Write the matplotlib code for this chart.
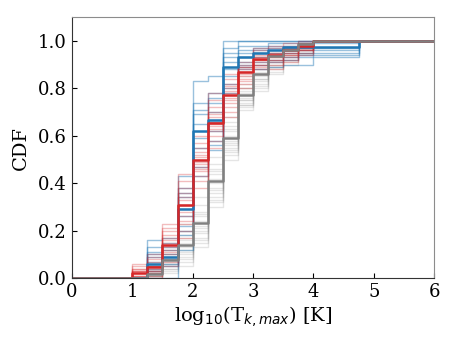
import numpy as np
import matplotlib
matplotlib.use('Agg')
import matplotlib.pyplot as plt

plt.rcParams['font.family'] = 'DejaVu Serif'

# left edges of the CDF steps, log10(T) [K]
edges = [1.0, 1.25, 1.5, 1.75, 2.0, 2.25, 2.5, 2.75, 3.0, 3.25, 3.5, 3.75,
         4.0, 4.25, 4.5, 4.75]

## MAIN CURVES
blue_main = [0, 0.06, 0.09, 0.29, 0.62, 0.665, 0.89, 0.93, 0.95, 0.96,
             0.975, 0.975, 0.975, 0.975, 0.975, 1.0]
red_main = [0.02, 0.045, 0.14, 0.31, 0.50, 0.655, 0.77, 0.87, 0.925, 0.94,
            0.96, 0.98, 1.0]
gray_main = [0, 0.018, 0.077, 0.138, 0.232, 0.409, 0.59, 0.77, 0.861, 0.935,
             0.962, 0.985, 1.0]

## RESAMPLED CURVES (faint)
blue_faint = [
    [0, 0.00, 0.00, 0.12, 0.43, 0.54, 0.78, 0.88, 0.88, 0.89, 0.90, 0.90, 0.93, 0.93, 0.93, 1.0],
    [0, 0.03, 0.05, 0.18, 0.50, 0.58, 0.82, 0.90, 0.91, 0.92, 0.93, 0.93, 0.95, 0.95, 0.95, 1.0],
    [0, 0.05, 0.08, 0.22, 0.55, 0.62, 0.85, 0.91, 0.93, 0.94, 0.95, 0.95, 0.96, 0.96, 0.96, 1.0],
    [0, 0.07, 0.10, 0.26, 0.59, 0.66, 0.88, 0.93, 0.95, 0.95, 0.96, 0.96, 0.97, 0.97, 0.97, 1.0],
    [0, 0.09, 0.12, 0.31, 0.65, 0.70, 0.91, 0.95, 0.96, 0.97, 0.97, 0.98],
    [0, 0.11, 0.13, 0.34, 0.69, 0.74, 0.93, 0.96, 0.97, 0.98, 0.98, 0.99, 0.99, 0.99, 0.99, 1.0],
    [0, 0.13, 0.15, 0.38, 0.74, 0.78, 0.95, 0.98, 0.98, 0.99, 0.99],
    [0, 0.16, 0.17, 0.43, 0.83, 0.85],
    [0, 0.04, 0.06, 0.20, 0.47, 0.56, 0.80, 0.89, 0.90, 0.91, 0.92, 0.94, 0.94, 0.94, 0.94, 1.0],
    [0, 0.10, 0.14, 0.36, 0.71, 0.76, 0.97],
]
red_faint = [
    [0.00, 0.00, 0.05, 0.17, 0.38, 0.55, 0.68, 0.80, 0.86, 0.88, 0.91, 0.94],
    [0.01, 0.01, 0.07, 0.20, 0.41, 0.58, 0.70, 0.82, 0.88, 0.90, 0.92, 0.95],
    [0.01, 0.02, 0.09, 0.23, 0.43, 0.60, 0.72, 0.83, 0.89, 0.91, 0.93, 0.96],
    [0.02, 0.03, 0.11, 0.26, 0.45, 0.62, 0.74, 0.85, 0.90, 0.92, 0.94, 0.96],
    [0.02, 0.04, 0.13, 0.28, 0.47, 0.64, 0.76, 0.86, 0.91, 0.93, 0.95, 0.97],
    [0.03, 0.05, 0.15, 0.31, 0.49, 0.66, 0.77, 0.87, 0.92, 0.94, 0.96, 0.97],
    [0.03, 0.06, 0.16, 0.33, 0.51, 0.68, 0.79, 0.88, 0.93, 0.95, 0.96, 0.98],
    [0.04, 0.07, 0.18, 0.36, 0.53, 0.70, 0.80, 0.89, 0.94, 0.95, 0.97, 0.98],
    [0.04, 0.08, 0.20, 0.38, 0.55, 0.72, 0.82, 0.90, 0.95, 0.96, 0.97, 0.99],
    [0.05, 0.09, 0.21, 0.41, 0.57, 0.75, 0.84, 0.91, 0.96, 0.97, 0.98, 0.99],
    [0.06, 0.10, 0.23, 0.44, 0.60, 0.78, 0.86, 0.93, 0.97, 0.98, 0.99, 1.00],
    [0.00, 0.02, 0.10, 0.24, 0.46, 0.63, 0.75, 0.84, 0.90, 0.92, 0.94, 0.96],
    [0.01, 0.03, 0.12, 0.29, 0.48, 0.65, 0.78, 0.87, 0.92, 0.93, 0.95, 0.97],
    [0.03, 0.05, 0.17, 0.34, 0.52, 0.69, 0.81, 0.89, 0.93, 0.94, 0.96, 0.98],
]
gray_faint = [
    [0, 0.00, 0.02, 0.05, 0.13, 0.30, 0.50, 0.71, 0.79, 0.86, 0.90, 0.94],
    [0, 0.00, 0.03, 0.07, 0.15, 0.32, 0.52, 0.72, 0.80, 0.87, 0.91, 0.95],
    [0, 0.01, 0.04, 0.09, 0.17, 0.34, 0.53, 0.73, 0.81, 0.88, 0.92, 0.95],
    [0, 0.01, 0.05, 0.10, 0.19, 0.36, 0.55, 0.74, 0.83, 0.89, 0.93, 0.96],
    [0, 0.01, 0.06, 0.12, 0.21, 0.38, 0.57, 0.75, 0.84, 0.90, 0.94, 0.96],
    [0, 0.02, 0.07, 0.13, 0.22, 0.40, 0.58, 0.76, 0.85, 0.91, 0.94, 0.97],
    [0, 0.02, 0.08, 0.15, 0.24, 0.42, 0.60, 0.78, 0.86, 0.92, 0.95, 0.97],
    [0, 0.03, 0.09, 0.16, 0.26, 0.44, 0.62, 0.79, 0.87, 0.93, 0.96, 0.98],
    [0, 0.03, 0.10, 0.18, 0.28, 0.46, 0.64, 0.80, 0.88, 0.94, 0.96, 0.98],
    [0, 0.04, 0.12, 0.20, 0.31, 0.48, 0.66, 0.82, 0.90, 0.95, 0.97, 0.99],
    [0, 0.05, 0.14, 0.23, 0.34, 0.51, 0.68, 0.85, 0.92, 0.96, 0.98, 0.99],
    [0, 0.02, 0.06, 0.11, 0.20, 0.37, 0.56, 0.75, 0.84, 0.90, 0.93, 0.96],
    [0, 0.01, 0.04, 0.08, 0.16, 0.33, 0.54, 0.73, 0.82, 0.89, 0.92, 0.95],
    [0, 0.03, 0.09, 0.17, 0.27, 0.45, 0.63, 0.80, 0.88, 0.93, 0.95, 0.98],
]

BLUE = '#1f77b4'
RED = '#d62728'
GRAY = 'gray'


def draw_cdf(ax, vals, **kw):
    # every CDF reaches 1 after its last listed bin
    y = list(vals) + [1.0] * (len(edges) - len(vals))
    x = [0] + edges + [6]
    y = [0] + y + [y[-1]]
    ax.step(x, y, where='post', **kw)


fig = plt.figure(figsize=(4.58, 3.43), dpi=100)
ax = fig.add_axes([0.157, 0.189, 0.791, 0.761])

for c in gray_faint:
    draw_cdf(ax, c, color=GRAY, alpha=0.2, lw=1)
for c in blue_faint:
    draw_cdf(ax, c, color=BLUE, alpha=0.45, lw=1)
for c in red_faint:
    draw_cdf(ax, c, color=RED, alpha=0.3, lw=1)

draw_cdf(ax, blue_main, color=BLUE, lw=1.8)
draw_cdf(ax, red_main, color=RED, lw=1.8)
draw_cdf(ax, gray_main, color=GRAY, lw=1.8)

ax.set_xlim(0, 6)
ax.set_ylim(0, 1.1)
ax.set_yticks([0, 0.2, 0.4, 0.6, 0.8, 1.0])
ax.tick_params(direction='in', labelsize=13)
for s in ['top', 'right']:
    ax.spines[s].set_color('0.55')
for s in ['left', 'bottom']:
    ax.spines[s].set_color('0.2')
ax.set_xlabel(r'log$_{10}$(T$_{k, max}$) [K]', fontsize=14, labelpad=2)
ax.set_ylabel('CDF', fontsize=14, labelpad=6)

fig.savefig('out.png', dpi=100)
